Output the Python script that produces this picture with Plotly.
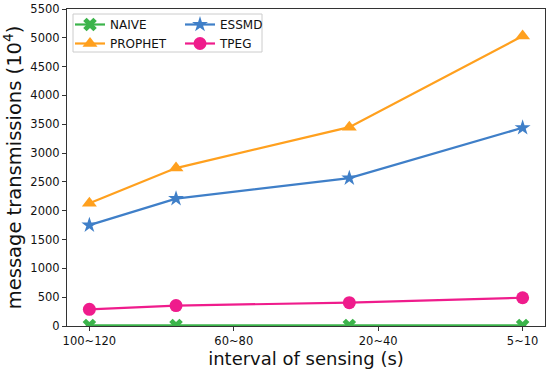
import plotly.graph_objects as go

# data
categories = ["100~120", "60~80", "20~40", "5~10"]
tick_pos = [0, 1, 2, 3]
x_pos = [0, 0.6, 1.8, 3.0]
naive = [10, 10, 10, 10]
prophet = [2130, 2740, 3450, 5030]
essmd = [1750, 2210, 2565, 3440]
tpeg = [290, 355, 405, 490]

W, H = 550, 372
L, R, T, B = 67, 5, 9, 46
pw, ph = W - L - R, H - T - B

def px2x(px):
    return (px - L) / pw

def py2y(py):
    return (H - B - py) / ph

font = "DejaVu Sans, Liberation Sans, sans-serif"
fig = go.Figure()

series = [
    ("NAIVE", naive, "#3cb44b", dict(symbol="x", size=12), "legend", True),
    ("PROPHET", prophet, "#ffa01e", dict(symbol="triangle-up", size=13), "legend", False),
    ("ESSMD", essmd, "#3f7fc8", dict(symbol="star", size=12), "legend2", False),
    ("TPEG", tpeg, "#ef1c8c", dict(symbol="circle", size=13), "legend2", False),
]
for name, vals, col, mk, lg, clip in series:
    fig.add_trace(go.Scatter(
        x=x_pos, y=vals, name=name, mode="lines+markers",
        line=dict(color=col, width=2.2),
        marker=dict(color=col, line=dict(width=0), **mk),
        legend=lg, cliponaxis=clip,
    ))

axis_common = dict(showline=True, linecolor="#333", linewidth=1.2, mirror=True,
                   ticks="outside", ticklen=4, tickcolor="#333", tickwidth=1,
                   showgrid=False, zeroline=False,
                   tickfont=dict(family=font, size=11.5, color="#111"))

fig.update_xaxes(range=[-0.155, 3.155], tickvals=tick_pos, ticktext=categories,
                 title=dict(text="interval of sensing (s)", font=dict(family=font, size=18, color="#111"), standoff=3),
                 **axis_common)
fig.update_yaxes(range=[0, 5500], dtick=500,
                 title=dict(text="message transmissions (10<sup>4</sup>)", font=dict(family=font, size=19.5, color="#111"), standoff=5),
                 **axis_common)

leg_common = dict(bgcolor="rgba(0,0,0,0)", borderwidth=0, font=dict(family=font, size=12, color="#111"),
                  tracegroupgap=0, itemwidth=30, yanchor="top", xanchor="left")
fig.update_layout(
    width=W, height=H,
    margin=dict(l=L, r=R, t=T, b=B, autoexpand=False),
    plot_bgcolor="white", paper_bgcolor="white",
    legend=dict(x=px2x(70), y=py2y(10), **leg_common),
    legend2=dict(x=px2x(180), y=py2y(10), **leg_common),
    showlegend=True,
)
fig.add_shape(type="rect", xref="paper", yref="paper",
              x0=px2x(73), x1=px2x(262), y0=py2y(52), y1=py2y(14),
              line=dict(color="#cccccc", width=1), fillcolor="rgba(255,255,255,0.8)", layer="below")

fig.write_html("out.html", config={"displayModeBar": False},
               post_script="document.body.style.margin='0';document.body.style.padding='0';")
